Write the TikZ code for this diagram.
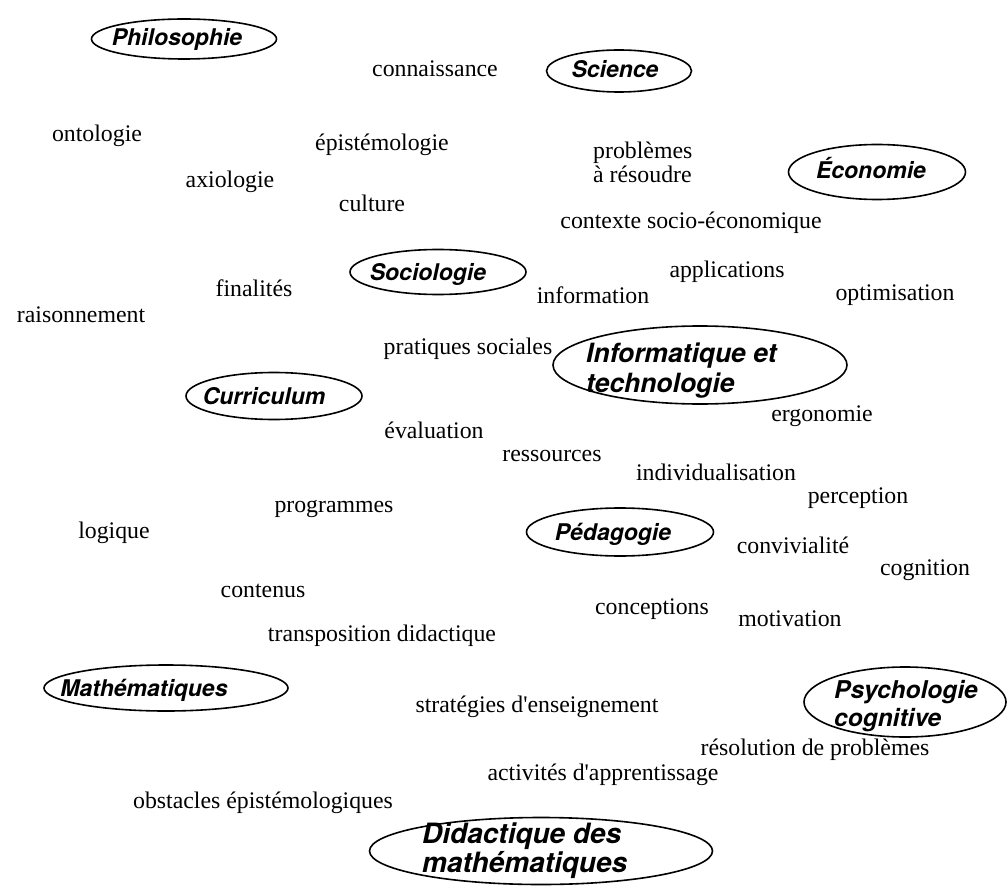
\documentclass[tikz,border=0pt]{standalone}
\usepackage{fontspec}
\setmainfont{Liberation Serif}
\newfontfamily\headfont{TeX Gyre Heros}
\usetikzlibrary{shapes.geometric}

\tikzset{
  term/.style={font=\fontsize{23.8}{28}\selectfont, inner sep=0pt, anchor=base},
  termleft/.style={term, anchor=base west},
  field/.style={draw, line width=1.6pt, ellipse, inner sep=0pt},
  fieldtext/.style={font=\headfont\bfseries\itshape\fontsize{23}{29}\selectfont, inner sep=0pt, anchor=base},
  fieldline/.style={fieldtext, anchor=base west},
  fieldsize/.style={font=\headfont\bfseries\itshape\fontsize{#1}{29}\selectfont}
}

\begin{document}
\begin{tikzpicture}[x=1pt,y=-1pt]
\useasboundingbox (0,0) rectangle (1008,890);

% --- fields (ellipses) ---
\node[field, minimum width=185pt, minimum height=40pt] (philo) at (184,39) {};
\node[fieldtext] (philoT) at (177,46) {Philosophie};

\node[field, minimum width=145pt, minimum height=42pt] (sci) at (619,71) {};
\node[fieldtext] (sciT) at (615,78) {Science};

\node[field, minimum width=177pt, minimum height=55pt] (eco) at (877,172) {};
\node[fieldtext] (ecoT) at (871,179) {Économie};

\node[field, minimum width=176pt, minimum height=45pt] (soc) at (438,272) {};
\node[fieldtext] (socT) at (428,280) {Sociologie};

\node[field, minimum width=294pt, minimum height=78pt] (info) at (700,365) {};
\node[fieldline, fieldsize=26.5] (infoA) at (586,362) {Informatique et};
\node[fieldline, fieldsize=26.5] (infoB) at (586,392) {technologie};

\node[field, minimum width=176pt, minimum height=47pt] (cur) at (274,396) {};
\node[fieldtext] (curT) at (264,404) {Curriculum};

\node[field, minimum width=187pt, minimum height=48pt] (ped) at (620,532) {};
\node[fieldtext] (pedT) at (613,540) {Pédagogie};

\node[field, minimum width=244pt, minimum height=46pt] (math) at (166,688) {};
\node[fieldtext] (mathT) at (144,696) {Mathématiques};

\node[field, minimum width=202pt, minimum height=70pt] (psy) at (905,702) {};
\node[fieldline, fieldsize=24.5] (psyA) at (834,698) {Psychologie};
\node[fieldline, fieldsize=24.5] (psyB) at (834,726) {cognitive};

\node[field, minimum width=343pt, minimum height=67pt] (did) at (541,851) {};
\node[fieldline, fieldsize=28] (didA) at (422,843) {Didactique des};
\node[fieldline, fieldsize=28] (didB) at (422,872) {mathématiques};

% --- concepts ---
\node[term] (t1) at (435,77) {connaissance};
\node[term] (t2) at (97,142) {ontologie};
\node[term] (t3) at (382,151) {épistémologie};
\node[termleft] (t4a) at (593,159) {problèmes};
\node[termleft] (t4b) at (593,183) {à résoudre};
\node[term] (t5) at (230,188) {axiologie};
\node[term] (t6) at (372,212) {culture};
\node[term] (t7) at (691,229) {contexte socio-économique};
\node[term] (t8) at (254,296) {finalités};
\node[term] (t9) at (727,277) {applications};
\node[term] (t10) at (593,303) {information};
\node[term] (t11) at (895,300) {optimisation};
\node[term] (t12) at (81,322) {raisonnement};
\node[term] (t13) at (468,354) {pratiques sociales};
\node[term] (t14) at (822,421) {ergonomie};
\node[term] (t15) at (434,438) {évaluation};
\node[term] (t16) at (552,461) {ressources};
\node[term] (t17) at (716,480) {individualisation};
\node[term] (t18) at (858,503) {perception};
\node[term] (t19) at (334,512) {programmes};
\node[term] (t20) at (114,538) {logique};
\node[term] (t21) at (793,553) {convivialité};
\node[term] (t22) at (925,575) {cognition};
\node[term] (t23) at (263,597) {contenus};
\node[term] (t24) at (652,614) {conceptions};
\node[term] (t25) at (790,626) {motivation};
\node[term] (t26) at (382,641) {transposition didactique};
\node[term] (t27) at (537,712) {stratégies d\textquotesingle enseignement};
\node[term] (t28) at (815,755) {résolution de problèmes};
\node[term] (t29) at (603,780) {activités d\textquotesingle apprentissage};
\node[term] (t30) at (263,808) {obstacles épistémologiques};
\end{tikzpicture}
\end{document}
